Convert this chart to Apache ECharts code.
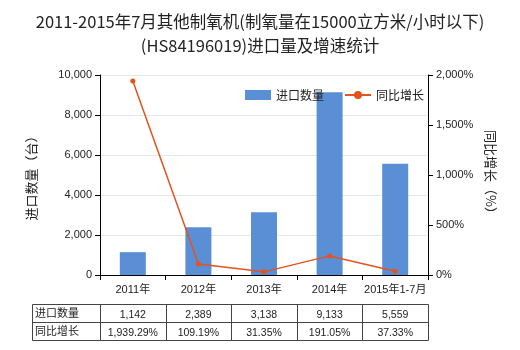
<!DOCTYPE html>
<html><head><meta charset="utf-8">
<script src="https://cdn.jsdelivr.net/npm/echarts@6/dist/echarts.min.js"></script>
<style>html,body{margin:0;padding:0;background:#fff}#c{width:520px;height:350px}</style>
</head><body><div id="c"></div>
<script>
var categories = ['2011年','2012年','2013年','2014年','2015年1-7月'];
var importQty = [1142, 2389, 3138, 9133, 5559];
var growth = [1939.29, 109.19, 31.35, 191.05, 37.33];
var qtyLabels = ['1,142','2,389','3,138','9,133','5,559'];
var growthLabels = ['1,939.29%','109.19%','31.35%','191.05%','37.33%'];
var rowNames = ['进口数量','同比增长'];

var FONT = '"Noto Sans CJK SC", sans-serif';
var NUMFONT = '"Liberation Sans", "Noto Sans CJK SC", sans-serif';
var chart = echarts.init(document.getElementById('c'));

var gl = 100, gr = 428, tTop = 304, rowH = 18, tLeft = 32;
var colW = (gr - gl) / categories.length;
var g = [];
g.push({type:'rect', shape:{x:tLeft+0.5, y:tTop+0.5, width:gr-tLeft, height:rowH*2}, style:{fill:'none', stroke:'#444', lineWidth:1}});
g.push({type:'line', shape:{x1:tLeft, y1:tTop+rowH+0.5, x2:gr, y2:tTop+rowH+0.5}, style:{stroke:'#444', lineWidth:1}});
for (var i = 0; i < categories.length; i++) {
  var xx = Math.round(gl+i*colW)+0.5;
  g.push({type:'line', shape:{x1:xx, y1:tTop, x2:xx, y2:tTop+rowH*2}, style:{stroke:'#444', lineWidth:1}});
}
var rows = [qtyLabels, growthLabels];
rows.forEach(function(r, ri){
  g.push({type:'text', x:tLeft+3, y:tTop+ri*rowH+rowH/2, style:{text:rowNames[ri], font:'11px '+FONT, fill:'#222', textVerticalAlign:'middle', verticalAlign:'middle'}});
  r.forEach(function(t, ci){
    g.push({type:'text', x:gl+ci*colW+colW/2, y:tTop+ri*rowH+rowH/2+2, style:{text:t, font:'10.5px '+NUMFONT, fill:'#222', textAlign:'center', align:'center', textVerticalAlign:'middle', verticalAlign:'middle'}});
  });
});

chart.setOption({
  animation:false,
  title:{text:'2011-2015年7月其他制氧机(制氧量在15000立方米/小时以下)\n(HS84196019)进口量及增速统计', left:'center', top:5,
    textStyle:{fontSize:16.5, fontWeight:'normal', color:'#222', fontFamily:FONT, lineHeight:24}},
  legend:{top:84, left:240, itemGap:20, itemWidth:26, itemHeight:10, textStyle:{fontSize:12, color:'#222', fontFamily:FONT},
    data:[{name:'进口数量', icon:'rect'},{name:'同比增长'}]},
  grid:{left:gl, right:520-gr, top:75, bottom:350-275},
  xAxis:{type:'category', data:categories, axisLine:{lineStyle:{color:'#000'}}, axisTick:{show:true, lineStyle:{color:'#000'}},
    axisLabel:{color:'#222', fontSize:11, fontFamily:NUMFONT, margin:9, interval:0}},
  yAxis:[
    {type:'value', min:0, max:10000, interval:2000, name:'进口数量（台）', nameLocation:'middle', nameGap:62, nameRotate:90,
     nameTextStyle:{fontSize:13, color:'#222', fontFamily:FONT},
     axisLine:{show:true, lineStyle:{color:'#000'}}, axisTick:{show:true, lineStyle:{color:'#000'}},
     axisLabel:{color:'#222', fontSize:11, fontFamily:NUMFONT, formatter:function(v){return v.toLocaleString('en-US');}},
     splitLine:{lineStyle:{color:'#e6e6e6'}}},
    {type:'value', min:0, max:2000, interval:500, name:'同比增长（%）', nameLocation:'middle', nameGap:52, nameRotate:-90,
     nameTextStyle:{fontSize:13, color:'#222', fontFamily:FONT},
     axisLine:{show:true, lineStyle:{color:'#000'}}, axisTick:{show:true, lineStyle:{color:'#000'}},
     axisLabel:{color:'#222', fontSize:11, fontFamily:NUMFONT, formatter:function(v){return v.toLocaleString('en-US')+'%';}},
     splitLine:{show:false}}
  ],
  series:[
    {name:'进口数量', type:'bar', data:importQty, barWidth:26, itemStyle:{color:'#5a8fd5'}},
    {name:'同比增长', type:'line', yAxisIndex:1, data:growth, symbol:'circle', symbolSize:5,
     itemStyle:{color:'#e2531f'}, lineStyle:{color:'#e2531f', width:1.5}}
  ],
  graphic:g
});
</script></body></html>
